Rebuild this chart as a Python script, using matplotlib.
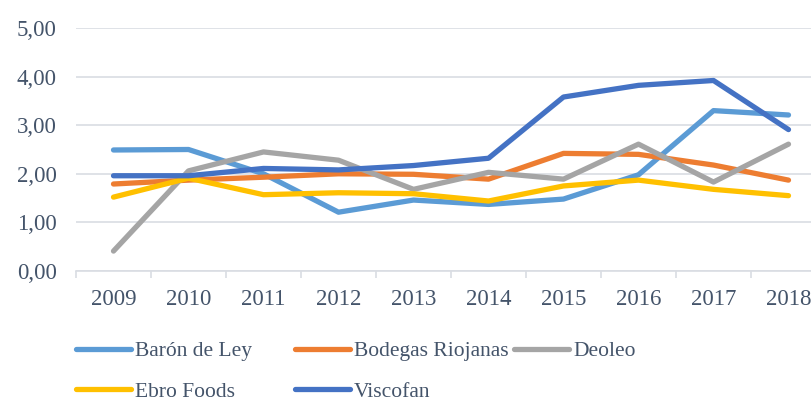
import numpy as np
import matplotlib
matplotlib.use("Agg")
from matplotlib import pyplot as plt

years = ["2009", "2010", "2011", "2012", "2013", "2014", "2015", "2016", "2017", "2018"]

baron = [2.49, 2.50, 2.00, 1.21, 1.46, 1.37, 1.48, 1.98, 3.30, 3.21]
bodegas = [1.79, 1.87, 1.93, 2.00, 1.99, 1.89, 2.42, 2.40, 2.18, 1.87]
deoleo = [0.41, 2.06, 2.45, 2.28, 1.68, 2.03, 1.89, 2.61, 1.83, 2.61]
ebro = [1.52, 1.91, 1.57, 1.61, 1.59, 1.44, 1.75, 1.87, 1.68, 1.55]
viscofan = [1.96, 1.96, 2.11, 2.08, 2.17, 2.32, 3.58, 3.82, 3.92, 2.91]

names = ["Barón de Ley", "Bodegas Riojanas", "Deoleo", "Ebro Foods", "Viscofan"]
colors = ["#5B9BD5", "#ED7D31", "#A5A5A5", "#FFC000", "#4472C4"]
series = [baron, bodegas, deoleo, ebro, viscofan]

txt = "#44546A"
plt.rcParams["font.family"] = ["Liberation Serif", "DejaVu Serif"]

fig = plt.figure(figsize=(8.12, 4.01), dpi=100)
ax = fig.add_axes([76/812, 1 - 271/401, 750/812, (271 - 28)/401])

x = np.arange(len(years))
lines = {}
for name, vals, col in zip(names, series, colors):
    ln, = ax.plot(x, vals, color=col, lw=3.8, solid_capstyle="round",
                  solid_joinstyle="round", label=name)
    lines[name] = ln

ax.set_xlim(-0.5, len(years) - 0.5)
ax.set_ylim(0, 5)
ax.set_yticks(np.arange(0, 5.01, 1))
ax.set_yticklabels([f"{v:.2f}".replace(".", ",") for v in np.arange(0, 5.01, 1)])
ax.set_xticks(x)
ax.set_xticklabels(years)
ax.set_xticks(np.arange(-0.5, len(years), 1), minor=True)
ax.grid(axis="y", color="#D9DDE3", lw=1.2)
ax.set_axisbelow(True)
for s in ["top", "right", "left"]:
    ax.spines[s].set_visible(False)
ax.spines["bottom"].set_color("#D9DDE3")
ax.spines["bottom"].set_linewidth(1.2)
ax.tick_params(axis="x", which="major", length=0, labelsize=16.5, labelcolor=txt, pad=13)
ax.tick_params(axis="x", which="minor", length=5, color="#D9DDE3", width=1.2)
ax.tick_params(axis="y", length=0, labelsize=16.5, labelcolor=txt, pad=14)

# legend in three columns, placed like the original
cols = [(["Barón de Ley", "Ebro Foods"], 76), (["Bodegas Riojanas", "Viscofan"], 295),
        (["Deoleo"], 514)]
for labels, px in cols:
    leg = fig.legend([lines[l] for l in labels], labels, loc="upper left",
                     bbox_to_anchor=(px/812, 1 - 341/401), frameon=False,
                     fontsize=15.5, handlelength=2.55, handletextpad=0.2,
                     labelspacing=0.97, borderpad=0, borderaxespad=0)
    for t in leg.get_texts():
        t.set_color(txt)

fig.savefig("out.png", dpi=100)
